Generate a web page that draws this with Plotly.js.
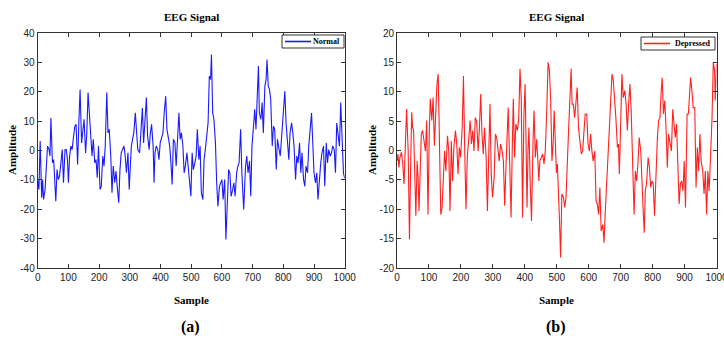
<!DOCTYPE html>
<html>
<head>
<meta charset="utf-8">
<script src="https://cdn.plot.ly/plotly-3.0.1.min.js"></script>
<style>html,body{margin:0;padding:0;background:#fff;}#chart{width:724px;height:343px;}</style>
</head>
<body>
<div id="chart"></div>
<script>
// Normal EEG (panel a)
const normalSample = [0,4,8,13,16,19,24,28,32,37,40,43,48,52,56,59,63,67,71,76,80,84,89,93,97,100,104,108,112,117,121,125,130,134,138,143,147,151,156,160,164,168,173,177,181,186,190,194,198,203,207,212,216,220,225,229,233,238,242,246,251,255,259,264,268,272,276,281,285,289,294,298,305,309,313,318,322,326,
332,337,341,345,350,354,358,363,367,371,376,379,382,386,391,395,399,404,408,412,417,421,425,430,434,438,442,447,451,455,460,464,468,473,477,481,486,490,494,499,503,507,512,516,520,525,529,533,538,542,546,550,555,559,563,566,570,574,579,583,587,592,596,600,604,609,613,617,622,626,630,635,639,643,648,652,656,661,665,
671,677,681,685,690,694,698,703,707,711,716,719,722,727,731,735,740,744,747,751,755,759,764,768,772,777,781,785,790,794,798,803,805,809,814,818,822,827,831,835,840,844,848,853,857,861,866,870,874,879,883,887,892,896,900,905,909,913,918,922,926,931,935,940,944,948,953,957,961,966,970,974,979,983,987,992,996,1000];
const normalAmp = [-9.9,-13.3,3.2,-16.1,-9.9,-16.7,-13.3,-5.3,1.5,0.3,-1.9,11.1,-4.2,-3.1,-9.9,-17.3,-6.5,-9.9,-8.8,-4.2,0.3,-11,0.3,0.3,-3.1,-11,-1.9,1.5,0.3,4.9,8.3,8.9,-4.8,9.4,20.8,2.6,7.2,10.6,-0.8,6,19.7,12.8,4.9,-1.9,3.8,-4.2,-3.1,-9.3,1.5,-13.3,-12.2,-1.9,-5.3,1.5,19.7,6,7.2,-1.9,-14.4,-5.3,-11,-7,-12.2,-17.8,-6.5,-0.8,0.3,1.5,-1.9,-7.6,-0.8,-13.3,1.5,3.8,6,12.8,4.9,0.3,
-0.8,8.3,14.5,2.6,10.6,18,4.9,0.3,6,8.9,1.5,-11,-0.8,1.5,0.3,-3.1,2.6,4.9,6,12.8,18.5,7.2,4.9,1.5,-4.2,-11.6,3.8,2.6,-5.3,3.8,12.8,3.8,6,1.5,-7.6,-5.3,-0.8,-5.3,-9.9,-15.6,-0.8,-6.5,-4.2,-1.9,7.2,-3.1,1.5,-14.4,-16.7,-3.1,0.3,3.8,9.4,25.3,24.2,32.7,12.8,10.6,2.6,-11,-19,-12.2,-11,-9.9,-16.7,-9.9,-30.3,-16.7,-6.5,-7.6,-15.6,-13.3,-11,-15.6,-7.6,-5.3,-4.2,7.2,-7.6,
-20.1,-5.3,-1.9,-7.6,-3.6,-15.6,1.5,7.2,14,7.2,19.7,28.8,12.8,10.6,16.3,6,21.9,24.2,31,21.9,20.8,17.4,1.5,8.3,7.2,-6.5,3.8,1.5,-1.9,3.8,9.4,16.3,20.2,9.4,2.6,-3.1,6,9.4,6,1.5,-9.9,-1.9,-4.2,2.6,-7.6,-0.8,-9.9,-12.2,-5.3,-7.6,1.5,6,12.8,2.6,-7.6,-11,-7.6,-16.7,-8.8,-4.2,-0.8,1.5,-12.2,2.6,-4.2,0.3,-1.9,-0.8,1.5,0.3,-7.6,9.4,4.9,1.5,16.3,1.5,-7.6,-9.5];

// Depressed EEG (panel b)
const depressedSample = [0,3,6,9,14,18,22,26,30,35,39,43,46,49,52,55,59,63,66,69,73,76,80,85,89,93,97,101,104,109,113,117,121,125,129,134,137,141,145,149,153,158,162,166,170,174,178,183,187,191,195,199,204,208,212,216,220,224,229,233,237,241,245,249,254,258,262,266,270,274,279,283,287,291,295,299,304,308,312,316,320,324,
329,333,337,341,345,348,353,357,361,364,368,372,377,381,385,389,393,397,401,404,407,410,413,417,421,426,429,433,437,441,444,447,452,456,460,464,468,473,477,481,485,489,492,495,499,502,506,509,512,516,521,525,529,533,537,541,545,548,552,556,560,564,568,573,577,581,585,589,594,598,602,606,610,614,619,623,627,631,635,639,644,648,652,656,
660,665,669,673,677,681,685,690,693,696,700,704,708,713,717,721,725,729,733,738,742,746,750,754,758,763,767,771,774,777,781,786,790,794,798,802,806,811,815,819,823,827,830,834,838,842,846,850,854,859,863,867,871,875,879,883,887,891,895,899,903,908,912,916,919,923,927,932,936,940,944,948,952,957,961,965,969,973,977,982,986,990,994,996,1000];
const depressedAmp = [-1.8,-0.6,-2.9,-1.2,-0.3,-2.3,-5.7,-0.1,7,-0.1,-15.1,-1.8,6.5,3.9,3.4,-2.9,-11.1,-1.8,-4.6,-10.3,-0.1,2.8,3.4,1.1,-0.1,5.1,-10.9,2.8,8.8,5.1,9,0.8,5.6,11.3,13,-0.1,-10.9,-9.7,-3.5,-0.1,-3.5,2.5,-0.1,-10.3,1.6,-5.2,0.5,3.4,1.1,-4,0.5,-1.2,3.9,12.7,-0.1,-10,-1.2,2.2,5.1,1.1,3.4,-0.1,5.6,5.1,-0.1,3.9,9.6,2.8,-0.6,3.9,-1.2,-10.3,2.2,7.9,-4,-8,-4.6,2.8,2.2,-0.1,-1.8,1.1,
-0.1,-1.8,-9.4,-2.9,2.2,7.3,-2.9,-11.4,1.1,8.8,-1.2,4.5,3.4,5.6,13.9,8.5,-11.4,5.6,11.3,-1.8,-9.7,-0.1,3.9,-5.7,-12,2.2,6.8,-1.2,1.9,-1.8,-5.2,-1.8,-1.2,-0.6,-2.3,-0.1,5.6,15,13.6,8.5,-1.8,1.6,6.8,1.1,-3.8,-2.3,-6.9,-12.6,-18.2,-7.4,-8,-9.7,-8,-0.1,3.4,8.5,13.9,7.9,7.9,5.6,7.9,10.7,3.9,1.1,-0.6,-0.1,2.8,6.2,6.2,1.1,-0.1,2.8,-0.1,-1.8,-0.1,-8.6,-9.1,-10.9,-6.3,-13.7,-12.6,-15.7,-10.3,-5.7,
-0.6,5.6,9.6,13,11.9,9,5.6,0.5,1.1,-4,2.8,13,9,10.2,7.9,3.4,7.9,11.3,6.8,-4,-10.9,-3.5,-5.2,-2.3,2.2,-0.1,-6.9,-10.9,-14,-6.9,-5.7,-1.2,-2.9,-6.3,-5.2,-5.7,-11.1,-2.9,2.2,5.1,5.6,10.2,12.4,6.2,8.5,3.9,-2.9,2.8,1.6,-0.1,7,3.9,2.2,4.5,-4,-9.1,-5.7,-5.2,-6.9,-1.8,-9.7,6.2,6.2,10.7,12.4,10.2,7.3,7.3,-6.3,0.5,-3.5,2.8,-1.8,-3.5,-7.4,-3.5,-10.9,-3.5,-6.9,-0.1,5.6,15,13.6,8.5,14.7];

const xTicks = [0,100,200,300,400,500,600,700,800,900,1000];
const yTicksA = [-40,-30,-20,-10,0,10,20,30,40];
const yTicksB = [-20,-15,-10,-5,0,5,10,15,20];
const panelTitle = 'EEG Signal';
const xLabel = 'Sample';
const yLabel = 'Amplitude';
const seriesNames = ['Normal','Depressed'];
const seriesColors = ['#1a1aff','#ff2020'];
const panelLabels = ['(a)','(b)'];

const W = 724, H = 343;
const tickFont = {family:'Liberation Sans Narrow, Liberation Sans, Arial', size:10, color:'#222'};
const boldSerif = {family:'Liberation Serif, Times New Roman, serif', color:'#000'};

function axisX(domain, anchor){
  return {domain:domain, anchor:anchor, range:[0,1000], tickvals:xTicks, ticktext:xTicks.map(String),
    ticks:'inside', ticklen:4, tickwidth:1, tickcolor:'#333', showline:true, linecolor:'#333', linewidth:1,
    mirror:'ticks', showgrid:false, zeroline:false, tickfont:tickFont, ticklabeloverflow:'allow'};
}
function axisY(domain, anchor, rng, vals){
  return {domain:domain, anchor:anchor, range:rng, tickvals:vals, ticktext:vals.map(String),
    ticks:'inside', ticklen:4, tickwidth:1, tickcolor:'#333', showline:true, linecolor:'#333', linewidth:1,
    mirror:'ticks', showgrid:false, zeroline:false, tickfont:tickFont, ticklabeloverflow:'allow'};
}

const yDom = [1-268/H, 1-33/H];
const xDomA = [37.7/W, 344.7/W];
const xDomB = [397/W, 716.5/W];

const traces = [
  {x:normalSample, y:normalAmp, type:'scatter', mode:'lines', name:seriesNames[0], xaxis:'x', yaxis:'y',
   line:{color:seriesColors[0], width:1.1}},
  {x:depressedSample, y:depressedAmp, type:'scatter', mode:'lines', name:seriesNames[1], xaxis:'x2', yaxis:'y2',
   line:{color:seriesColors[1], width:1.1}}
];

const ann = [];
const shapes = [];
function addText(text, x, y, size, angle){
  ann.push({text:'<b>'+text+'</b>', xref:'paper', yref:'paper', x:x/W, y:1-y/H, xanchor:'center', yanchor:'middle',
    showarrow:false, textangle:angle||0, font:Object.assign({size:size}, boldSerif)});
}
addText(panelTitle, 191, 17, 11);
addText(panelTitle, 556, 17, 11);
addText(xLabel, 191, 300, 11);
addText(xLabel, 556, 300, 11);
addText(yLabel, 12, 150, 11, -90);
addText(yLabel, 372, 150, 11, -90);
addText(panelLabels[0], 190, 327, 16);
addText(panelLabels[1], 556, 327, 16);

// compact legend boxes
function addLegend(name, color, x0, x1, y0, y1, lineLen){
  shapes.push({type:'rect', xref:'paper', yref:'paper', x0:x0/W, x1:x1/W, y0:1-y1/H, y1:1-y0/H,
    line:{color:'#333', width:1}, fillcolor:'#fff', layer:'above'});
  const ym = (y0+y1)/2;
  shapes.push({type:'line', xref:'paper', yref:'paper', x0:(x0+3)/W, x1:(x0+3+lineLen)/W, y0:1-ym/H, y1:1-ym/H,
    line:{color:color, width:1.6}, layer:'above'});
  ann.push({text:'<b>'+name+'</b>', xref:'paper', yref:'paper', x:(x1-2)/W, y:1-ym/H, xanchor:'right', yanchor:'middle',
    showarrow:false, font:Object.assign({size:8}, boldSerif)});
}
addLegend(seriesNames[0], seriesColors[0], 282, 344, 35, 48, 26);
addLegend(seriesNames[1], seriesColors[1], 641, 715, 37, 50, 26);

const layout = {
  width:W, height:H, margin:{l:0,r:0,t:0,b:0}, paper_bgcolor:'#fff', plot_bgcolor:'#fff',
  showlegend:false,
  xaxis:axisX(xDomA,'y'), yaxis:axisY(yDom,'x',[-40,40],yTicksA),
  xaxis2:axisX(xDomB,'y2'), yaxis2:axisY(yDom,'x2',[-20,20],yTicksB),
  annotations:ann, shapes:shapes
};

Plotly.newPlot('chart', traces, layout, {staticPlot:true, displayModeBar:false});
</script>
</body>
</html>
